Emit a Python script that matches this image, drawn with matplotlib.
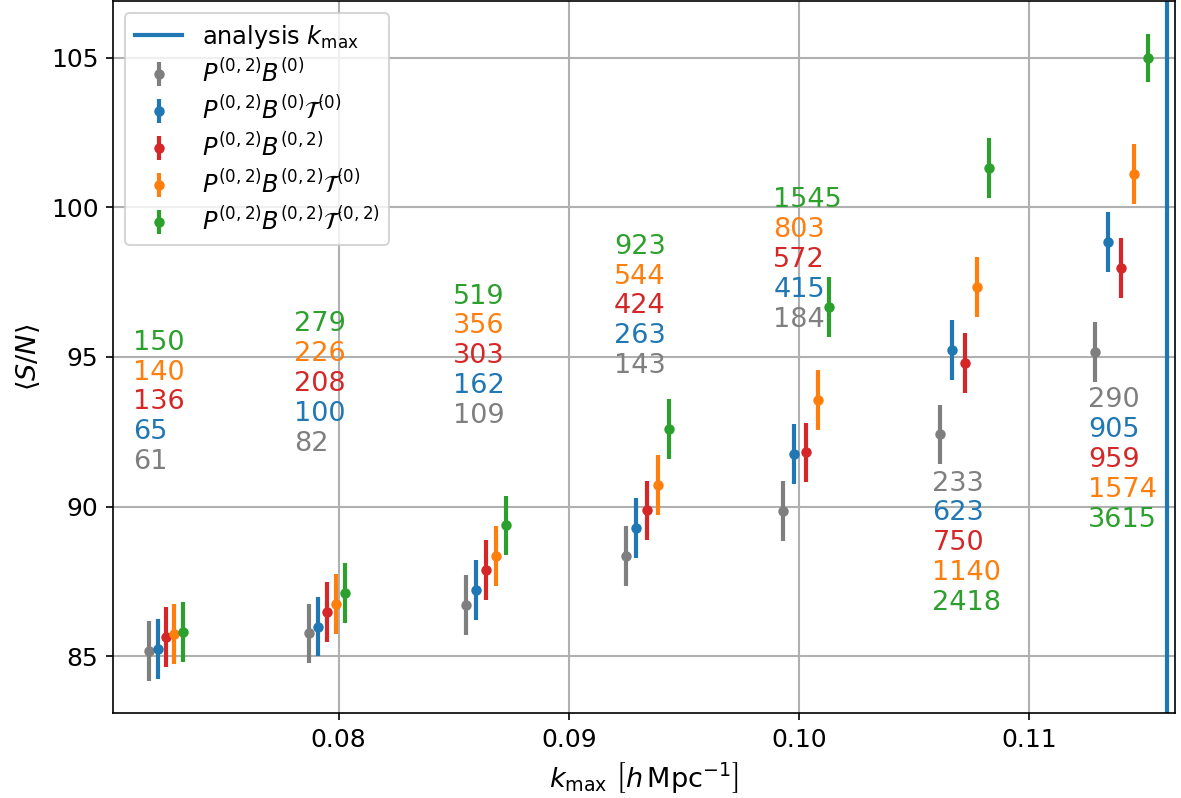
import matplotlib
matplotlib.use('Agg')
import matplotlib.pyplot as plt
import numpy as np

# k_max of each group (centre), analysis k_max
k = np.array([0.0725, 0.0795, 0.0864, 0.0934, 0.1003, 0.1072, 0.1140])
k_analysis = 0.116

labels = [r'$P^{(0,2)}B^{(0)}$',
          r'$P^{(0,2)}B^{(0)}\mathcal{T}^{(0)}$',
          r'$P^{(0,2)}B^{(0,2)}$',
          r'$P^{(0,2)}B^{(0,2)}\mathcal{T}^{(0)}$',
          r'$P^{(0,2)}B^{(0,2)}\mathcal{T}^{(0,2)}$']
colors = ['tab:gray', 'tab:blue', 'tab:red', 'tab:orange', 'tab:green']
offsets = [0.99, 0.995, 1.0, 1.005, 1.01]

sn_gray = [85.18, 85.76, 86.71, 88.35, 89.86, 92.41, 95.18]
sn_blue = [85.24, 85.99, 87.21, 89.28, 91.75, 95.23, 98.85]
sn_red = [85.65, 86.48, 87.87, 89.87, 91.81, 94.79, 97.98]
sn_orange = [85.73, 86.73, 88.35, 90.72, 93.56, 97.33, 101.11]
sn_green = [85.81, 87.12, 89.37, 92.59, 96.68, 101.32, 105.0]

err_gray = [1.0, 1.0, 1.0, 1.0, 1.0, 1.0, 1.0]
err_blue = [1.0, 1.0, 1.0, 1.0, 1.0, 1.0, 1.0]
err_red = [1.0, 1.0, 1.0, 1.0, 1.0, 1.0, 1.0]
err_orange = [1.0, 1.0, 1.0, 1.0, 1.0, 1.0, 1.0]
err_green = [1.0, 1.0, 1.0, 1.0, 1.0, 1.0, 0.81]

# numbers written next to each group
n_gray = [61, 82, 109, 143, 184, 233, 290]
n_blue = [65, 100, 162, 263, 415, 623, 905]
n_red = [136, 208, 303, 424, 572, 750, 959]
n_orange = [140, 226, 356, 544, 803, 1140, 1574]
n_green = [150, 279, 519, 923, 1545, 2418, 3615]

# text anchor (left x, y of first line) per group
text_x = [0.07108, 0.07806, 0.08498, 0.09196, 0.09888, 0.10579, 0.11256]
text_y = [95.48, 96.09, 97.02, 98.69, 100.25, 90.77, 93.56]

sn = [sn_gray, sn_blue, sn_red, sn_orange, sn_green]
err = [err_gray, err_blue, err_red, err_orange, err_green]
nums = [n_gray, n_blue, n_red, n_orange, n_green]

plt.rcParams['font.size'] = 13

fig = plt.figure(figsize=(1181/150, 798/150), dpi=150)
ax = fig.add_axes([113/1181, 1-713/798, (1175-113)/1181, 712/798])

ax.axvline(k_analysis, color='tab:blue', lw=2, label=r'analysis $k_{\rm max}$')
for i in range(5):
    ax.errorbar(k*offsets[i], sn[i], yerr=err[i], fmt='o', ms=4, elinewidth=2,
                color=colors[i], label=labels[i])

for j in range(len(k)):
    if j < 5:
        order = [4, 3, 2, 1, 0]
    else:
        order = [0, 1, 2, 3, 4]
    for row, i in enumerate(order):
        ax.text(text_x[j], text_y[j] - row, str(nums[i][j]), color=colors[i],
                fontsize=13, ha='left', va='center')

ax.set_xlim(0.0702, 0.11633)
ax.set_ylim(83.1, 106.9)
ax.set_xticks([0.08, 0.09, 0.10, 0.11])
ax.set_xticklabels(['0.08', '0.09', '0.10', '0.11'])
ax.set_yticks([85, 90, 95, 100, 105])
ax.tick_params(labelsize=12)
ax.grid(True, lw=1)
ax.set_xlabel(r'$k_{\rm max}\ \left[h\,{\rm Mpc}^{-1}\right]$', fontsize=13)
ax.set_ylabel(r'$\langle S/N\rangle$', fontsize=13)
ax.legend(loc='upper left', fontsize=11.5, labelspacing=0.35)

plt.savefig('out.png', dpi=150)
